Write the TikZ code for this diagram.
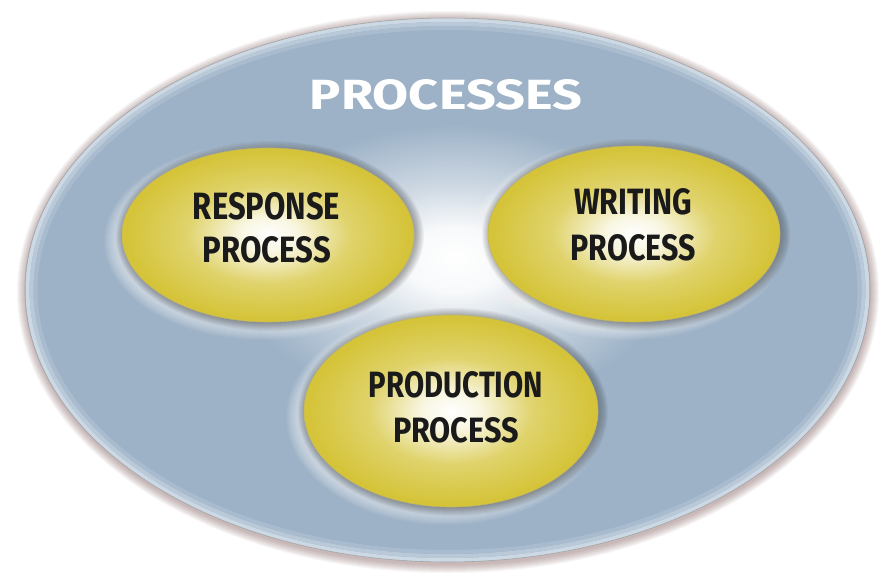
\documentclass[tikz,border=0pt]{standalone}
\usepackage{fontspec}
\setmainfont{Fira Sans}
\usetikzlibrary{shapes.geometric}
\definecolor{bluebg}{HTML}{9DB2C7}
\definecolor{bluerim}{HTML}{CCD8E4}
\definecolor{yel}{HTML}{D5C43A}
\definecolor{yeldark}{HTML}{A5961F}
\definecolor{ink}{HTML}{1A1A1A}
\pgfdeclareradialshading{bigglow}{\pgfpoint{0.5bp}{3bp}}{color(0bp)=(white); color(3bp)=(white!92!bluebg); color(7bp)=(white!50!bluebg); color(13bp)=(bluebg); color(50bp)=(bluebg)}
\pgfdeclareradialshading{yelglow}{\pgfpoint{0bp}{0bp}}{color(0bp)=(white); color(5bp)=(white!85!yel); color(14bp)=(white!25!yel); color(24bp)=(yel); color(45bp)=(yel); color(50bp)=(yeldark)}
\newcommand\mybubble[5]{%
  \foreach \k in {1,...,12}{\fill[white,opacity=0.05] (#2-6,#3+6) ellipse ({#4pt+\k pt} and {#5pt+\k pt});}
  \foreach \k in {0,...,8}{\fill[black,opacity=0.04] (#2+2,#3+1) ellipse ({#4pt+\k pt} and {#5pt+\k pt});}
  \node[bubble, minimum width=2*#4pt, minimum height=2*#5pt] (#1) at (#2,#3) {};
}
\tikzset{
  bubble/.style={ellipse, shading=yelglow, draw=yeldark!70, line width=0.6pt, inner sep=0pt, outer sep=0pt},
  lbl/.style={inner sep=0pt, outer sep=0pt, text=ink, font=\bfseries},
  ttl/.style={inner sep=0pt, outer sep=0pt, text=white, font=\bfseries},
}
\begin{document}
\begin{tikzpicture}[x=1pt,y=-1pt]
\useasboundingbox (0,0) rectangle (889,573);
\fill[white] (0,0) rectangle (889,573);
% outer shadow
\foreach \k in {1,...,9}{\fill[black!60!red!40!gray,opacity=0.05] (448,292) ellipse ({422pt+\k pt} and {272pt+\k pt});}
\node[ellipse, minimum width=845pt, minimum height=544pt, inner sep=0pt, shading=bigglow] (outer) at (447.5,290) {};
\draw[bluerim, line width=4pt] (447.5,290) ellipse (420pt and 270pt);
\draw[bluerim!60!bluebg, line width=4pt] (447.5,290) ellipse (416pt and 266pt);
\draw[bluerim!25!bluebg, line width=4pt] (447.5,290) ellipse (412pt and 262pt);
\draw[gray!70, line width=0.6pt] (447.5,290) ellipse (422.5pt and 272pt);
% title
\node[ttl] (title) at (446,95) {\resizebox{272pt}{30pt}{PROCESSES}};
% bubbles
\mybubble{resp}{268}{235}{146}{87}
\mybubble{writ}{634}{234}{146}{88}
\mybubble{prod}{451}{411}{147}{96}
% labels
\node[lbl] (resp1) at (266.5,206.5) {\resizebox{147pt}{27pt}{RESPONSE}};
\node[lbl] (resp2) at (267,250) {\resizebox{128pt}{26pt}{PROCESS}};
\node[lbl] (writ1) at (633,202) {\resizebox{118pt}{26pt}{WRITING}};
\node[lbl] (writ2) at (633,247.5) {\resizebox{125pt}{26pt}{PROCESS}};
\node[lbl] (prod1) at (456,385) {\resizebox{174pt}{26pt}{PRODUCTION}};
\node[lbl] (prod2) at (456,430) {\resizebox{126pt}{25pt}{PROCESS}};
\end{tikzpicture}
\end{document}
